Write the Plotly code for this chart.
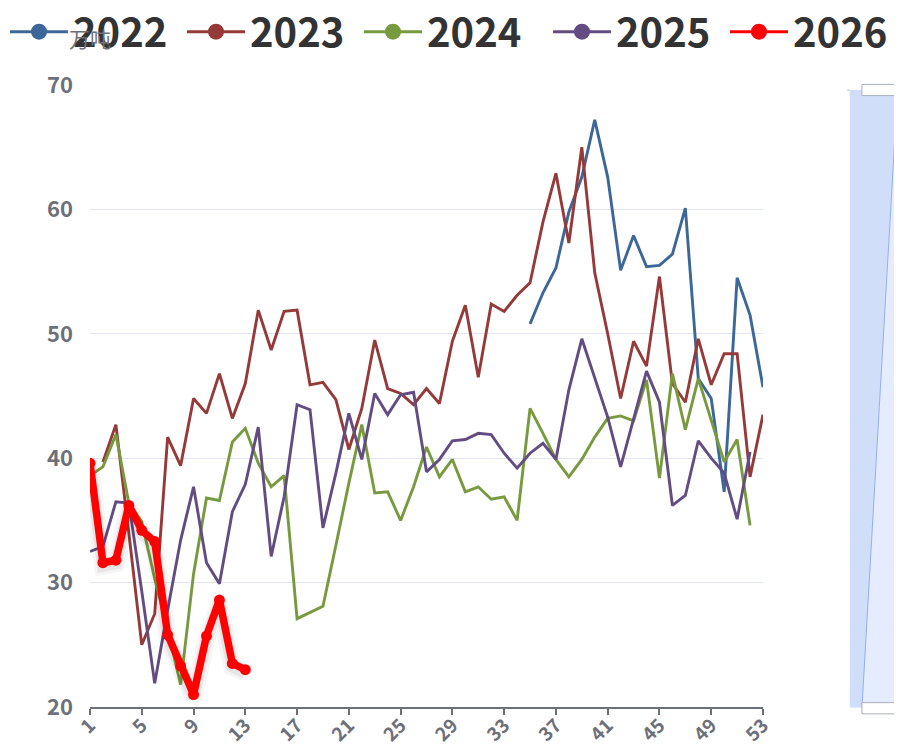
import plotly.graph_objects as go

weeks = list(range(1, 54))

v2022 = [None] * 34 + [50.8, 53.3, 55.3, 59.8, 62.6, 67.2, 62.6, 55.1, 57.9, 55.4,
                       55.5, 56.4, 60.1, 46.4, 44.8, 37.3, 54.5, 51.5, 45.7]
v2023 = [None, 39.7, 42.7, 34.0, 25.0, 27.5, 41.7, 39.4, 44.8, 43.6,
         46.8, 43.2, 46.0, 51.9, 48.7, 51.8, 51.9, 45.9, 46.1, 44.7,
         40.7, 44.0, 49.5, 45.6, 45.2, 44.3, 45.6, 44.4, 49.4, 52.3,
         46.5, 52.4, 51.8, 53.1, 54.1, 59.0, 62.9, 57.3, 65.0, 54.9,
         50.0, 44.8, 49.4, 47.4, 54.6, 46.0, 44.5, 49.6, 45.9, 48.4,
         48.4, 38.5, 43.5]
v2024 = [38.6, 39.3, 41.9, 36.4, 34.9, 30.3, 26.3, 21.8, 30.7, 36.8,
         36.6, 41.3, 42.4, 39.6, 37.7, 38.6, 27.1, 27.6, 28.1, 33.0,
         38.0, 42.7, 37.2, 37.3, 35.0, 37.7, 40.9, 38.5, 39.9, 37.3,
         37.7, 36.7, 36.9, 35.0, 44.0, 42.0, 39.9, 38.5, 39.9, 41.7,
         43.2, 43.4, 43.0, 46.3, 38.4, 46.8, 42.3, 46.4, 43.1, 39.7,
         41.5, 34.6, None]
v2025 = [32.5, 32.9, 36.5, 36.4, 29.3, 21.9, 27.8, 33.4, 37.7, 31.6,
         29.9, 35.7, 37.9, 42.5, 32.1, 36.9, 44.3, 43.9, 34.4, 38.8,
         43.6, 39.9, 45.2, 43.5, 45.1, 45.3, 38.9, 39.9, 41.4, 41.5,
         42.0, 41.9, 40.4, 39.2, 40.4, 41.2, 39.9, 45.5, 49.6, 46.5,
         43.3, 39.3, 43.1, 47.0, 44.5, 36.2, 37.0, 41.4, 40.0, 38.8,
         35.1, 40.5, None]
v2026 = [39.6, 31.6, 31.8, 36.2, 34.2, 33.3, 25.8, 23.3, 21.0, 25.7,
         28.6, 23.5, 23.0]

series_names = ["2022", "2023", "2024", "2025", "2026"]
series_values = [v2022, v2023, v2024, v2025, v2026]
colors = ["#3C6798", "#953A38", "#789A3E", "#624C82", "#FF0000"]
legend_ids = ["legend", "legend", "legend", "legend2", "legend2"]

y_ticks = [20, 30, 40, 50, 60, 70]
x_ticks = list(range(1, 54, 4))

FONT = "Noto Sans CJK SC"
fig = go.Figure()

# data lines
for name, vals, col in zip(series_names, series_values, colors):
    xs = weeks[:len(vals)]
    if name == "2026":
        for w, a in [(18, 0.04), (12, 0.06)]:
            fig.add_trace(go.Scatter(x=xs, y=[v - 0.25 for v in vals], mode="lines",
                                     line=dict(color=f"rgba(0,0,0,{a})", width=w),
                                     showlegend=False, hoverinfo="skip"))
        fig.add_trace(go.Scatter(x=xs, y=vals, mode="lines+markers", name=name,
                                 line=dict(color=col, width=7.5),
                                 marker=dict(size=11, color=col),
                                 showlegend=False, connectgaps=False))
    else:
        fig.add_trace(go.Scatter(x=xs, y=vals, mode="lines", name=name,
                                 line=dict(color=col, width=2.9),
                                 showlegend=False, connectgaps=False))

# legend entries
for name, col, lg in zip(series_names, colors, legend_ids):
    fig.add_trace(go.Scatter(x=[None], y=[None], mode="lines+markers", name=name,
                             line=dict(color=col, width=3), legend=lg,
                             marker=dict(size=16, color=col)))

# dataZoom-like slider decoration on right
shapes = [
    dict(type="rect", xref="paper", yref="paper", x0=1.129, x1=1.25, y0=-0.001, y1=0.992,
         fillcolor="#E4ECFD", line=dict(width=0), layer="below"),
    dict(type="path", xref="paper", yref="paper",
         path="M 1.129 -0.001 L 1.147 -0.001 L 1.2 0.992 L 1.129 0.992 Z",
         fillcolor="#D1DEFA", line=dict(width=0), layer="below"),
    dict(type="line", xref="paper", yref="paper", x0=1.147, y0=-0.001, x1=1.2, y1=0.992,
         line=dict(color="#93B0F2", width=1)),
    dict(type="line", xref="paper", yref="paper", x0=1.125, y0=0.992, x1=1.129, y1=0.992,
         line=dict(color="#B8C0CC", width=1)),
    dict(type="rect", xref="paper", yref="paper", x0=1.147, x1=1.2, y0=0.983, y1=1.001,
         fillcolor="white", line=dict(color="#A7B0BD", width=1)),
    dict(type="rect", xref="paper", yref="paper", x0=1.147, x1=1.2, y0=-0.011, y1=0.007,
         fillcolor="white", line=dict(color="#A7B0BD", width=1)),
]

legend_style = dict(orientation="h", yref="paper", y=1.138, yanchor="top",
                    font=dict(size=40, family=FONT, color="#333333", weight="bold"),
                    itemwidth=58, entrywidth=104, entrywidthmode="pixels",
                    tracegroupgap=0, bgcolor="rgba(0,0,0,0)")

fig.update_layout(
    width=894, height=739,
    margin=dict(l=82, r=139, t=77, b=40, autoexpand=False),
    paper_bgcolor="white", plot_bgcolor="white",
    font=dict(family=FONT, color="#333333"),
    showlegend=True,
    legend=dict(xref="paper", x=-0.1263, xanchor="left", **legend_style),
    legend2=dict(xref="paper", x=0.6805, xanchor="left", **legend_style),
    shapes=shapes,
    xaxis=dict(range=[1, 53], tickvals=x_ticks, ticktext=[str(t) for t in x_ticks],
               tickangle=-45, showgrid=False, zeroline=False, automargin=False,
               showline=True, linecolor="#6E7079", linewidth=1.5,
               ticks="outside", ticklen=6, tickcolor="#6E7079", tickwidth=1.5,
               ticklabelstandoff=-8,
               tickfont=dict(size=19, color="#6E7079", family=FONT, weight="bold")),
    yaxis=dict(range=[20, 70], tickvals=y_ticks, showgrid=True, gridcolor="#E0E6F1",
               gridwidth=1, zeroline=False, showline=False, ticks="", automargin=False,
               ticklabelstandoff=16,
               tickfont=dict(size=22, color="#6E7079", family=FONT, weight="bold")),
    annotations=[dict(text="万吨", xref="paper", yref="paper", x=0.0, y=1.075,
                      xanchor="center", yanchor="middle", showarrow=False,
                      font=dict(size=21, color="#6E7079", family=FONT))],
)

fig.write_html("out.html")
